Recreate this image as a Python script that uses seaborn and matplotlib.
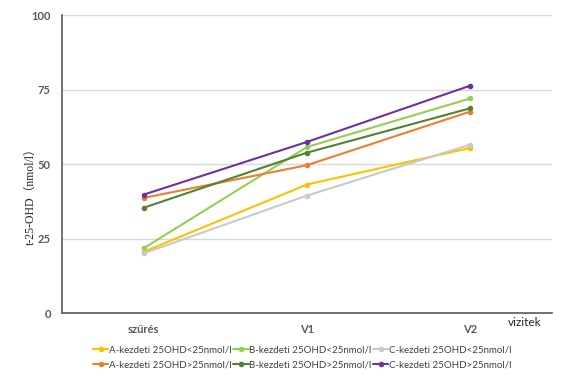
import matplotlib
matplotlib.use("Agg")
import matplotlib.pyplot as plt
import seaborn as sns
import pandas as pd

visits = ["szűrés", "V1", "V2"]
series_names = [
    "A-kezdeti 25OHD<25nmol/l",
    "B-kezdeti 25OHD<25nmol/l",
    "C-kezdeti 25OHD<25nmol/l",
    "A-kezdeti 25OHD>25nmol/l",
    "B-kezdeti 25OHD>25nmol/l",
    "C-kezdeti 25OHD>25nmol/l",
]
a_low = [20.6, 43.2, 55.5]
b_low = [21.8, 55.8, 72.1]
c_low = [20.1, 39.5, 56.6]
a_high = [38.7, 49.7, 67.7]
b_high = [35.4, 53.9, 68.8]
c_high = [39.8, 57.5, 76.4]
colors = ["#FFC000", "#92D050", "#C9C9C9", "#ED7D31", "#548235", "#7030A0"]

values = [a_low, b_low, c_low, a_high, b_high, c_high]
rows = []
for name, vals in zip(series_names, values):
    for v, val in zip(visits, vals):
        rows.append({"visit": v, "value": val, "series": name})
df = pd.DataFrame(rows)

sns.set_style("white")
plt.rcParams["font.family"] = ["Lato", "DejaVu Sans"]

fig, ax = plt.subplots(figsize=(5.68, 3.82), dpi=100)
fig.subplots_adjust(left=0.109, right=0.972, top=0.96, bottom=0.18)

sns.lineplot(data=df, x="visit", y="value", hue="series", hue_order=series_names,
             palette=colors, marker="o", markersize=4, markeredgewidth=0,
             linewidth=1.5, ax=ax, sort=False)

ax.set_xlim(-0.5, 2.5)
ax.set_ylim(0, 100)
ax.set_yticks([0, 25, 50, 75, 100])
ax.yaxis.grid(True, color="#D9D9D9", linewidth=1)
ax.set_axisbelow(True)
for s in ["top", "right"]:
    ax.spines[s].set_visible(False)
for s in ["left", "bottom"]:
    ax.spines[s].set_color("#595959")
    ax.spines[s].set_linewidth(1.2)
ax.tick_params(axis="y", length=0, labelsize=8, labelcolor="#595959", pad=8)
ax.tick_params(axis="x", length=0, labelsize=8, labelcolor="#595959", pad=8)
for lab in ax.get_xticklabels() + ax.get_yticklabels():
    lab.set_fontweight("bold")

ax.set_xlabel("")
ax.set_ylabel("t-25-OHD（nmol/l）",
              family=["Liberation Serif", "Noto Sans CJK JP", "DejaVu Serif"],
              fontsize=8.5)
ax.yaxis.set_label_coords(-0.052, 0.40)
ax.text(0.978, -0.012, "vizitek", transform=ax.transAxes, ha="right", va="top",
        fontsize=8.5, color="#262626")

handles, labels = ax.get_legend_handles_labels()
order = [0, 3, 1, 4, 2, 5]
ax.legend([handles[i] for i in order], [labels[i] for i in order],
          loc="upper center", bbox_to_anchor=(0.49, -0.095), ncol=3, frameon=False,
          fontsize=7.0, handlelength=1.6, handletextpad=0.05, columnspacing=0.15,
          labelspacing=0.6, labelcolor="#404040", borderaxespad=0)

fig.savefig("out.png", dpi=100)
